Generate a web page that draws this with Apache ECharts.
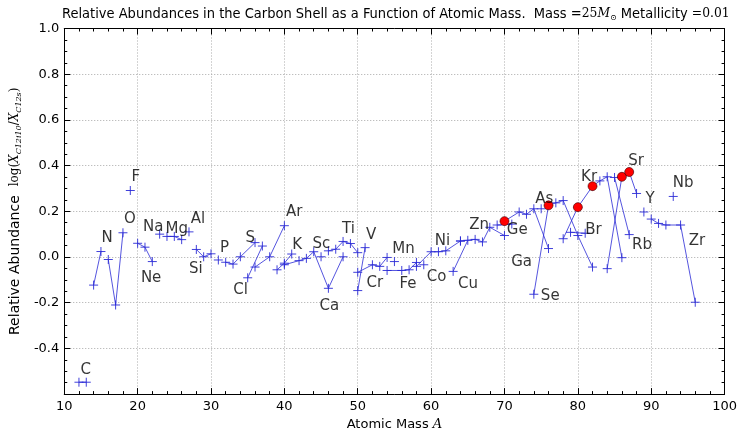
<!DOCTYPE html>
<html><head><meta charset="utf-8">
<script src="https://cdn.jsdelivr.net/npm/echarts@6/dist/echarts.min.js"></script>
<style>html,body{margin:0;padding:0;background:#fff}#c{width:740px;height:436px}</style>
</head><body><div id="c"></div>
<script>
// ---- data ----
const elements = ['C','N','O','F','Ne','Na','Mg','Al','Si','P','S','Cl','Ar','K','Ca','Sc','Ti','V','Cr','Mn','Fe','Co','Ni','Cu','Zn','Ga','Ge','As','Se','Br','Kr','Rb','Sr','Y','Zr','Nb'];
const masses = [
  [12,13],[14,15],[16,17,18],[19],[20,21,22],[23],[24,25,26],[27],[28,29,30],[31],
  [32,33,34,36],[35,37],[36,38,40],[39,40,41],[40,42,43,44,46,48],[45],[46,47,48,49,50],[50,51],
  [50,52,53,54],[55],[54,56,57,58],[59],[58,60,61,62,64],[63,65],[64,66,67,68,70],[69,71],
  [70,72,73,74,76],[75],[74,76,77,78,80,82],[79,81],[78,80,82,83,84,86],[85,87],[84,86,87,88],
  [89],[90,91,92,94,96],[93]
];
const abundances = [
  [-0.548,-0.548],[-0.123,0.024],[-0.011,-0.21,0.106],[0.291],[0.06,0.043,-0.02],[0.10],
  [0.09,0.09,0.076],[0.11],[0.033,0.001,0.014],[-0.013],
  [-0.023,-0.031,0.001,0.063],[-0.091,0.048],[-0.044,0.001,0.137],[-0.056,-0.027,0.013],
  [-0.034,-0.016,-0.006,0.023,-0.137,0.001],[0.001],[0.027,0.034,0.068,0.059,0.019],[-0.147,0.041],
  [-0.067,-0.034,-0.041,-0.002],[-0.02],[-0.059,-0.059,-0.056,-0.024],[-0.034],
  [-0.041,0.023,0.023,0.027,0.07],[-0.063,0.073],[0.07,0.077,0.066,0.13,0.094],[0.14,0.144],
  [0.157,0.197,0.187,0.211,0.037],[0.211],[-0.163,0.226,0.237,0.247,0.094,-0.044],[0.108,0.104],
  [0.08,0.218,0.31,0.333,0.351,-0.003],[0.348,0.098],[-0.051,0.351,0.372,0.278],
  [0.197],[0.166,0.147,0.14,0.14,-0.198],[0.265]
];
// element-name annotation anchors (data coordinates)
const labelMass = [12.8,15.7,18.8,19.6,21.7,22.0,25.2,28.1,27.8,31.7,35.2,33.9,41.2,41.6,46.0,44.9,48.6,51.7,52.2,56.1,56.7,60.6,61.4,64.9,66.4,72.2,71.6,75.3,76.1,82.0,81.4,88.6,87.8,89.7,96.1,94.2];
const labelAbund = [-0.48,0.094,0.18,0.364,-0.081,0.146,0.137,0.18,-0.039,0.051,0.094,-0.133,0.21,0.064,-0.2,0.069,0.137,0.107,-0.103,0.047,-0.107,-0.077,0.081,-0.107,0.154,-0.009,0.133,0.266,-0.158,0.133,0.364,0.064,0.433,0.266,0.081,0.338];
// s-only isotopes highlighted in red
const sOnlyMass = [70,76,80,82,86,87];
const sOnlyAbund = [0.157,0.226,0.218,0.31,0.351,0.372];
const xMin = 10, xMax = 100, xStep = 10;
const yMin = -0.6, yMax = 1.0, yStep = 0.2;

// ---- chart ----
const chart = echarts.init(document.getElementById('c'), null, {renderer:'canvas'});
const lineColor = '#2a2ad6';
const plus = 'path://M0,5L10,5M5,0L5,10';
const series = elements.map((el, i) => ({
  type: 'line', name: el, xAxisIndex: 0, yAxisIndex: 0,
  data: masses[i].map((m, j) => [m, abundances[i][j]]),
  symbol: plus, symbolSize: 9, symbolKeepAspect: true, showSymbol: true,
  lineStyle: {color: lineColor, width: 0.8},
  itemStyle: {color: 'rgba(0,0,0,0)', borderColor: lineColor, borderWidth: 0.9},
  animation: false, silent: true, z: 2
}));
series.push({
  type: 'scatter', name: 's-only', data: sOnlyMass.map((m, i) => [m, sOnlyAbund[i]]),
  symbol: 'circle', symbolSize: 9,
  itemStyle: {color: '#ff0000', borderColor: '#400000', borderWidth: 0.6, opacity: 1},
  z: 5, animation: false, silent: true
});
series.push({
  type: 'scatter', name: 'labels', data: elements.map((el, i) => [labelMass[i], labelAbund[i], el]),
  symbolSize: 0, z: 6, animation: false, silent: true,
  label: {show: true, position: [0, 0], align: 'center', verticalAlign: 'middle', offset: [1, 3],
    formatter: p => p.data[2], color: '#000', fontFamily: 'DejaVu Sans', fontSize: 15}
});
const tickFont = {fontFamily: 'DejaVu Sans', fontSize: 13, color: '#000'};
const axLine = {show: true, onZero: false, lineStyle: {color: '#000', width: 1}};
const grid = {show: true, lineStyle: {color: '#a8a8a8', type: [1, 2], width: 1}};
chart.setOption({
  backgroundColor: '#fff',
  animation: false,
  title: {
    text: '{a|Relative Abundances in the Carbon Shell as a Function of Atomic Mass.  Mass =}{m|25}{i|M}{s|⊙}{a| Metallicity }{m|=0.01}',
    left: 57, top: 1,
    textStyle: {fontWeight: 'normal', rich: {
      a: {fontFamily: "'DejaVu Sans Condensed', 'DejaVu Sans'", fontWeight: 'normal', fontSize: 14.5, color: '#000'},
      m: {fontFamily: 'DejaVu Serif', fontWeight: 'normal', fontSize: 12.3, color: '#000'},
      i: {fontFamily: 'DejaVu Serif', fontWeight: 'normal', fontStyle: 'italic', fontSize: 12.3, color: '#000'},
      s: {fontFamily: 'DejaVu Serif', fontWeight: 'normal', fontSize: 8, color: '#000', padding: [8, 0, 0, 0]}
    }}
  },
  grid: {left: 62, right: 11, top: 28.5, bottom: 34, containLabel: false},
  xAxis: [{
    type: 'value', min: xMin, max: xMax, interval: xStep, position: 'bottom',
    name: '{a|Atomic Mass }{i|A}', nameLocation: 'middle', nameGap: 17,
    nameTextStyle: {rich: {a: {fontFamily: 'DejaVu Sans', fontSize: 13, color: '#000'},
      i: {fontFamily: 'DejaVu Serif', fontStyle: 'italic', fontSize: 13, color: '#000'}}},
    axisLine: axLine, axisTick: {show: true, inside: true, length: 6, lineStyle: {color: '#000'}},
    minorTick: {show: true, splitNumber: 5, length: 3, lineStyle: {color: '#000'}},
    axisLabel: Object.assign({margin: 6}, tickFont), splitLine: grid
  }, {
    type: 'value', min: xMin, max: xMax, interval: xStep, position: 'top',
    axisLine: axLine, axisTick: {show: true, inside: true, length: 6, lineStyle: {color: '#000'}},
    minorTick: {show: true, splitNumber: 5, length: 3, lineStyle: {color: '#000'}},
    axisLabel: {show: false}, splitLine: {show: false}
  }],
  yAxis: [{
    type: 'value', min: yMin, max: yMax, interval: yStep, position: 'left',
    name: '{a|Relative Abundance  }{m|log(}{i|X}{s|C12i10}{m|/}{i|X}{s|C12s}{m|)}',
    nameLocation: 'middle', nameGap: 40, nameRotate: 90,
    nameTextStyle: {rich: {
      a: {fontFamily: 'DejaVu Sans', fontSize: 14, color: '#000'},
      m: {fontFamily: 'DejaVu Serif', fontSize: 12, color: '#000'},
      i: {fontFamily: 'DejaVu Serif', fontStyle: 'italic', fontSize: 12, color: '#000'},
      s: {fontFamily: 'DejaVu Serif', fontStyle: 'italic', fontSize: 8, color: '#000', padding: [8, 0, 0, 0]}
    }},
    axisLine: axLine, axisTick: {show: true, inside: true, length: 6, lineStyle: {color: '#000'}},
    minorTick: {show: true, splitNumber: 4, length: 3, lineStyle: {color: '#000'}},
    axisLabel: Object.assign({margin: 5, formatter: v => (Math.abs(v - yMin) < 1e-9 ? '' : v.toFixed(1))}, tickFont),
    splitLine: grid
  }, {
    type: 'value', min: yMin, max: yMax, interval: yStep, position: 'right',
    axisLine: axLine, axisTick: {show: true, inside: true, length: 6, lineStyle: {color: '#000'}},
    minorTick: {show: true, splitNumber: 4, length: 3, lineStyle: {color: '#000'}},
    axisLabel: {show: false}, splitLine: {show: false}
  }],
  series: series
});
</script></body></html>
